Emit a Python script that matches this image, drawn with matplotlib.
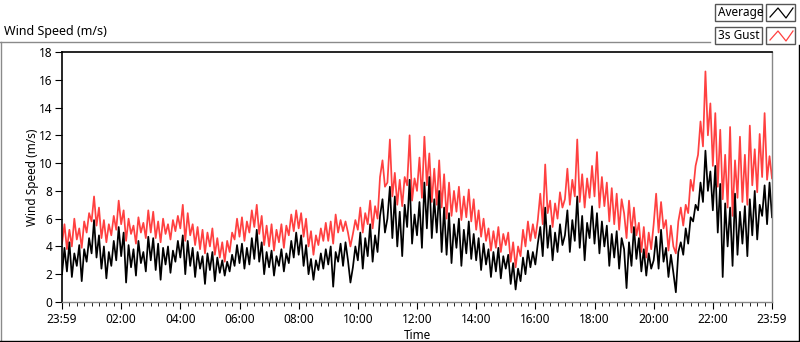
import numpy as np
import matplotlib
matplotlib.use("Agg")
import matplotlib.pyplot as plt
from matplotlib.lines import Line2D
from matplotlib.patches import Rectangle

plt.rcParams['font.family'] = ['Noto Sans', 'DejaVu Sans']

# ---- data (5-minute samples, minutes since 23:59) ----
avg_speed = [
    2.0, 3.9, 2.2, 4.3, 1.8, 3.5, 2.6, 4.1, 1.5, 3.8, 2.9, 4.6,
    3.5, 5.9, 3.2, 4.8, 2.4, 4.0, 1.7, 3.6, 2.6, 4.4, 3.0, 5.4,
    3.3, 5.0, 1.4, 4.1, 2.5, 3.8, 1.9, 4.4, 2.8, 3.6, 2.2, 4.7,
    3.0, 4.6, 2.3, 4.2, 1.6, 3.9, 2.7, 4.0, 2.1, 3.7, 2.9, 4.4,
    3.2, 4.8, 2.0, 4.4, 2.6, 3.9, 1.8, 3.6, 2.4, 3.3, 1.3, 3.5,
    2.3, 3.6, 1.5, 3.2, 2.1, 3.0, 1.9, 2.9, 2.2, 3.4, 2.6, 4.1,
    2.8, 4.2, 2.4, 3.9, 2.7, 4.6, 3.1, 5.2, 2.9, 4.3, 2.0, 3.6,
    2.5, 3.7, 1.9, 3.3, 2.6, 3.8, 2.2, 3.5, 2.8, 4.4, 3.2, 5.0,
    3.4, 4.8, 2.6, 4.1, 2.0, 3.1, 1.6, 3.0, 2.3, 3.5, 2.4, 3.8,
    2.7, 4.0, 1.1, 3.6, 2.9, 4.2, 2.6, 4.3, 3.0, 1.4, 2.5, 4.0,
    3.0, 5.0, 2.4, 4.6, 3.3, 5.6, 2.9, 4.8, 3.6, 6.2, 7.4, 5.0,
    6.0, 8.3, 4.6, 7.6, 4.0, 6.5, 3.3, 7.0, 5.4, 8.8, 4.2, 6.3,
    4.8, 7.2, 3.9, 8.6, 5.3, 9.0, 4.6, 7.4, 5.0, 8.0, 3.6, 6.8,
    3.4, 6.4, 2.8, 5.6, 3.9, 6.0, 2.6, 5.2, 3.5, 5.8, 3.1, 4.9,
    3.0, 4.6, 2.3, 4.2, 2.7, 3.8, 1.8, 3.6, 2.2, 3.9, 1.7, 3.3,
    2.4, 3.4, 1.3, 2.8, 0.9, 2.4, 1.5, 3.2, 2.0, 3.7, 2.5, 3.6,
    2.7, 4.2, 5.4, 3.3, 6.8, 3.9, 5.5, 3.0, 5.0, 3.6, 5.6, 4.1,
    4.8, 6.6, 3.6, 5.9, 4.4, 7.6, 3.9, 6.2, 3.0, 5.7, 4.6, 6.9,
    4.2, 6.4, 3.5, 5.8, 4.0, 5.5, 2.6, 4.9, 3.2, 5.1, 2.4, 4.6,
    3.8, 1.0, 4.3, 2.6, 5.4, 3.1, 4.6, 2.2, 3.8, 1.9, 3.5, 2.4,
    3.0, 4.7, 2.4, 5.2, 2.9, 3.9, 1.8, 3.4, 2.1, 0.7, 3.6, 4.3,
    3.4, 5.3, 4.2, 6.1, 5.8, 7.0, 6.6, 8.6, 7.2, 10.9, 8.0, 9.4,
    6.6, 9.8, 5.0, 8.5, 1.8, 7.1, 4.0, 6.8, 2.6, 7.8, 3.4, 6.5,
    4.2, 6.9, 3.3, 7.4, 4.8, 8.0, 4.5, 7.0, 6.2, 8.4, 5.6, 8.6, 6.1,
]
gust_speed = [
    4.2, 5.6, 3.8, 5.2, 4.0, 6.0, 4.5, 5.3, 3.9, 5.8, 5.0, 6.4,
    5.8, 7.6, 5.5, 6.8, 4.6, 5.9, 4.3, 5.6, 4.8, 6.2, 5.2, 7.3,
    5.6, 6.6, 4.4, 6.0, 4.9, 5.5, 4.2, 6.1, 5.0, 5.7, 4.6, 6.6,
    5.0, 6.5, 4.6, 5.8, 4.3, 6.0, 4.9, 5.6, 4.5, 5.9, 5.1, 6.2,
    5.3, 7.0, 4.4, 6.4, 4.8, 5.6, 4.1, 5.4, 3.8, 5.2, 3.5, 5.0,
    4.0, 5.3, 3.4, 4.6, 3.2, 4.3, 2.9, 4.4, 3.6, 5.0, 4.5, 6.0,
    4.7, 6.1, 4.4, 5.8, 5.0, 6.6, 5.4, 7.0, 4.9, 6.2, 4.1, 5.5,
    4.0, 5.6, 3.7, 5.2, 4.3, 5.6, 3.9, 5.5, 4.8, 6.3, 5.1, 6.6,
    5.3, 6.4, 4.7, 6.0, 4.0, 5.1, 3.4, 4.8, 4.1, 5.3, 4.4, 5.7,
    4.4, 5.8, 4.2, 6.3, 5.0, 5.9, 5.1, 5.8, 5.0, 4.0, 4.9, 5.9,
    5.2, 6.8, 5.0, 6.4, 5.6, 7.3, 5.3, 6.9, 6.0, 9.0, 10.2, 8.3,
    8.6, 11.7, 7.6, 9.3, 7.0, 8.8, 6.9, 9.0, 8.4, 12.0, 7.3, 8.9,
    8.0, 10.4, 7.5, 11.9, 8.4, 10.7, 7.2, 9.6, 7.0, 10.2, 6.8, 9.2,
    6.0, 8.6, 6.2, 8.0, 6.5, 8.3, 5.9, 7.6, 6.1, 8.1, 5.8, 7.4,
    5.2, 6.6, 4.7, 6.0, 4.4, 5.3, 3.7, 5.1, 3.9, 5.4, 3.6, 4.9,
    4.1, 5.0, 2.9, 4.3, 2.5, 4.0, 3.3, 5.2, 4.0, 5.8, 4.4, 5.6,
    4.6, 5.9, 7.8, 5.6, 9.9, 6.4, 7.3, 5.4, 7.1, 6.0, 7.9, 6.8,
    7.4, 9.6, 7.0, 8.8, 7.6, 11.7, 7.2, 9.2, 6.8, 8.9, 7.5, 9.8,
    7.6, 10.8, 6.8, 9.0, 6.9, 8.6, 5.8, 8.2, 5.6, 7.8, 5.2, 7.4,
    6.4, 4.6, 7.3, 5.0, 6.8, 4.8, 5.7, 3.6, 5.4, 3.2, 5.0, 3.8,
    5.6, 7.8, 5.0, 7.2, 5.3, 5.9, 3.7, 5.5, 4.0, 3.5, 5.8, 6.8,
    5.5, 7.0, 6.4, 8.8, 8.0, 9.8, 10.6, 13.0, 11.2, 16.6, 12.0, 14.3,
    9.8, 13.6, 8.3, 12.4, 7.4, 10.6, 6.8, 12.6, 6.2, 10.2, 7.5, 11.9,
    7.2, 10.6, 7.0, 12.7, 8.4, 11.0, 7.9, 12.1, 9.0, 13.6, 8.8, 10.5, 8.9,
]
minutes = np.arange(len(avg_speed)) * 5  # minutes since 23:59
time_labels = ["23:59", "02:00", "04:00", "06:00", "08:00", "10:00", "12:00",
               "14:00", "16:00", "18:00", "20:00", "22:00", "23:59"]
y_ticks = [0, 2, 4, 6, 8, 10, 12, 14, 16, 18]

W, H = 800, 342
fig = plt.figure(figsize=(W / 100, H / 100), dpi=100)


def fx(x):
    return x / W


def fy(y):
    return 1 - y / H


ax = fig.add_axes([fx(62), fy(302), fx(772) - fx(62), fy(52) - fy(302)])
ax.plot(minutes, gust_speed, color="#FF4040", lw=1.25)
ax.plot(minutes, avg_speed, color="black", lw=1.25)
ax.set_xlim(0, 1440)
ax.set_ylim(0, 18)
ax.set_yticks(y_ticks)
ax.set_xticks(np.arange(0, 1441, 120))
ax.set_xticklabels(time_labels)
ax.set_xticks(np.arange(0, 1441, 15), minor=True)
ax.tick_params(axis="both", labelsize=8.5, direction="out", color="black")
ax.tick_params(axis="y", length=5, pad=2)
ax.tick_params(axis="x", which="major", length=5, pad=3)
ax.tick_params(axis="x", which="minor", length=3)
for side in ("left", "top"):
    ax.spines[side].set_color("black")
    ax.spines[side].set_linewidth(1.2)
for side in ("right", "bottom"):
    ax.spines[side].set_color("#888888")
    ax.spines[side].set_linewidth(1.0)
ax.set_ylabel("Wind Speed (m/s)", fontsize=8.5, labelpad=0)
ax.set_xlabel("Time", fontsize=8.5, labelpad=2)

# chart title
fig.text(fx(4), fy(31), "Wind Speed (m/s)", fontsize=9, va="center", ha="left")

# outer frame
grey = "#8a8a8a"
fig.add_artist(Line2D([fx(0), fx(710)], [fy(42), fy(42)], color=grey, lw=1))
fig.add_artist(Line2D([fx(0.5), fx(0.5)], [fy(42), fy(341)], color=grey, lw=1))
fig.add_artist(Line2D([fx(0), fx(799)], [fy(340.5), fy(340.5)], color="black", lw=1))
fig.add_artist(Line2D([fx(798.5), fx(798.5)], [fy(45), fy(341)], color="black", lw=1))


def box(x0, y0, x1, y1):
    fig.add_artist(Rectangle((fx(x0), fy(y1)), fx(x1) - fx(x0), fy(y0) - fy(y1),
                             facecolor="white", edgecolor="#555555", lw=1))


series = [("Average", "black", 4, 21), ("3s Gust", "#FF4040", 27, 44)]
for label, col, y0, y1 in series:
    box(715, y0, 762, y1)
    box(766, y0, 795, y1)
    fig.text(fx(718), fy((y0 + y1) / 2), label, fontsize=8.5, va="center", ha="left")
    zx = [770, 778, 786, 793]
    zy = [y1 - 4, y0 + 4, y1 - 3, y0 + 4]
    fig.add_artist(Line2D([fx(v) for v in zx], [fy(v) for v in zy], color=col, lw=0.9))

fig.savefig("out.png", dpi=100)
